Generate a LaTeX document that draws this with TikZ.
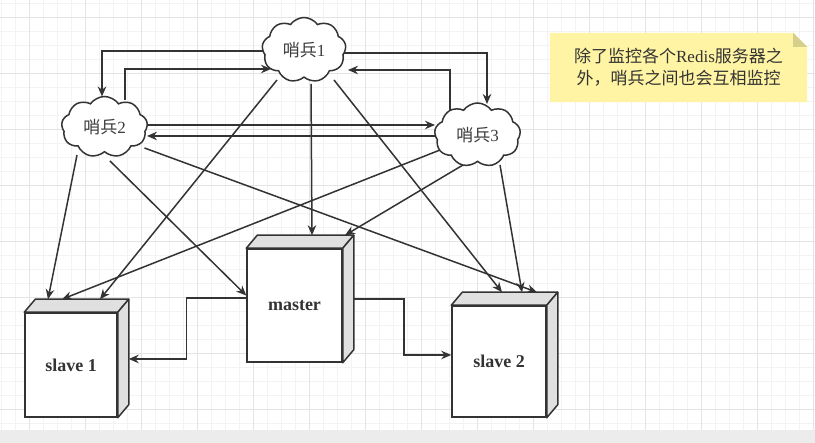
\documentclass[tikz,border=0pt]{standalone}
\usepackage{fontspec}
\setmainfont{Liberation Serif}
\newfontfamily\cjk{Noto Sans CJK SC}
\usetikzlibrary{shapes.symbols,arrows.meta,calc}
\pgfdeclarelayer{gridlayer}
\pgfdeclarelayer{linelayer}
\pgfsetlayers{gridlayer,linelayer,main}
\definecolor{ln}{RGB}{51,51,51}
\definecolor{tx}{RGB}{60,60,60}
\definecolor{gminor}{RGB}{243,243,243}
\definecolor{gmajor}{RGB}{228,228,228}
\definecolor{band}{RGB}{236,236,236}
\definecolor{noteY}{RGB}{255,244,163}
\definecolor{noteF}{RGB}{214,207,140}
\definecolor{face}{RGB}{224,224,224}
\tikzset{
  cloudnode/.style={cloud, cloud puffs=9, cloud puff arc=110, aspect=1.3, draw=ln, line width=1.5pt, fill=white, inner sep=0pt, font=\fontsize{17}{17}\selectfont, text=tx},
  boxfront/.style={draw=ln, line width=1.5pt, fill=white, inner sep=0pt, font=\bfseries\fontsize{18}{18}\selectfont, text=ln},
  boxface/.style={draw=ln, line width=1.5pt, fill=face, line join=round},
  conn/.style={draw=ln, line width=1.5pt, -{Stealth[length=10pt,width=8.5pt]}},
  notebox/.style={inner sep=0pt, minimum width=257pt, minimum height=69pt, align=center, text=ln, font=\cjk\fontsize{17}{22}\selectfont},
}
\begin{document}
\begin{tikzpicture}[x=1pt,y=1pt]
\useasboundingbox (0,0) rectangle (815,443);
\begin{pgfonlayer}{gridlayer}
  \fill[white] (0,0) rectangle (815,443);
  \foreach \x in {1,15,...,813} {\draw[gminor, line width=1pt] (\x,13) -- (\x,443);}
  \foreach \y in {19,33,...,439} {\draw[gminor, line width=1pt] (0,\y) -- (815,\y);}
  \foreach \x in {29,85,...,813} {\draw[gmajor, line width=1pt] (\x,13) -- (\x,443);}
  \foreach \y in {33,89,...,425} {\draw[gmajor, line width=1pt] (0,\y) -- (815,\y);}
  \fill[band] (0,0) rectangle (815,13);
\end{pgfonlayer}

% sentinels
\node[cloudnode, minimum width=84pt, minimum height=65pt] (c1) at (304,393) {{\cjk 哨兵}1};
\node[cloudnode, minimum width=86pt, minimum height=61pt] (c2) at (104.5,316) {{\cjk 哨兵}2};
\node[cloudnode, minimum width=86pt, minimum height=64pt] (c3) at (477.5,308) {{\cjk 哨兵}3};

% servers
\node[boxfront, minimum width=95pt, minimum height=113pt] (m) at (294.5,137.5) {master};
\node[boxfront, minimum width=92pt, minimum height=104pt] (s1) at (71,78) {slave 1};
\node[boxfront, minimum width=94pt, minimum height=111pt] (s2) at (499,81.5) {slave 2};
\foreach \b in {m,s1,s2} {
  \draw[boxface] (\b.north west) -- ++(11,13) -- ([shift={(11,13)}]\b.north east) -- (\b.north east) -- cycle;
  \draw[boxface] (\b.north east) -- ++(11,13) -- ([shift={(11,13)}]\b.south east) -- (\b.south east) -- cycle;
}

% note
\node[notebox] (note) at (678.5,375.5) {除了监控各个{\rmfamily Redis}服务器之\\外，哨兵之间也会互相监控};

\begin{pgfonlayer}{linelayer}
  \fill[noteY] (note.south west) -- (note.north west) -- ([xshift=-14]note.north east) -- ([yshift=-14]note.north east) -- (note.south east) -- cycle;
  \fill[noteF] ([xshift=-14]note.north east) -- ([yshift=-14]note.north east) -- ([shift={(-14,-14)}]note.north east) -- cycle;
  % sentinel ring
  \draw[conn] ([shift={(-41,-1)}]c1.center) -| ([shift={(-2.5,30.5)}]c2.center);
  \draw[conn] ([shift={(20.5,27)}]c2.center) |- ([shift={(-33,-19)}]c1.center);
  \draw[conn] ([shift={(39,-3)}]c1.center) -| ([shift={(9.5,31)}]c3.center);
  \draw[conn] ([shift={(-27.5,25)}]c3.center) |- ([shift={(44,-20)}]c1.center);
  \draw[conn] ([shift={(40,2)}]c2.center) -- ([shift={(-42.5,10)}]c3.center);
  \draw[conn] ([shift={(-42,-1)}]c3.center) -- ([shift={(42.5,-9)}]c2.center);
  % sentinel 1 to servers
  \draw[conn] ([shift={(-27,-30)}]c1.center) -- ([shift={(29,13)}]s1.north);
  \draw[conn] ([shift={(7,-34)}]c1.center) -- ([shift={(17.5,13)}]m.north);
  \draw[conn] ([shift={(30,-30)}]c1.center) -- ([shift={(3,13)}]s2.north);
  % sentinel 2 to servers
  \draw[conn] ([shift={(-27.5,-28)}]c2.center) -- ([shift={(-23,13)}]s1.north);
  \draw[conn] ([shift={(5.5,-34)}]c2.center) -- ([yshift=10]m.west);
  \draw[conn] ([shift={(40,-21)}]c2.center) -- ([shift={(38,13)}]s2.north);
  % sentinel 3 to servers
  \draw[conn] ([shift={(-37.5,-15)}]c3.center) -- ([shift={(-9,13)}]s1.north);
  \draw[conn] ([shift={(-14.5,-30)}]c3.center) -- ([shift={(50.5,13)}]m.north);
  \draw[conn] ([shift={(22.5,-30)}]c3.center) -- ([shift={(23,13)}]s2.north);
  % replication
  \draw[conn] ([yshift=7.5]m.west) -- ++(-60,0) |- ([shift={(11,6)}]s1.east);
  \draw[conn] ([shift={(11,6.5)}]m.east) -- ++(50,0) |- ([yshift=6.5]s2.west);
\end{pgfonlayer}
\end{tikzpicture}
\end{document}
